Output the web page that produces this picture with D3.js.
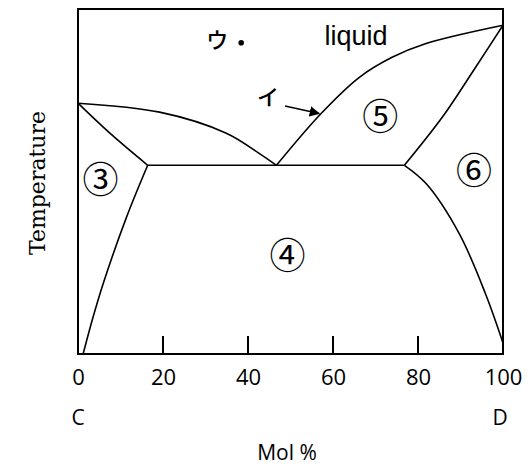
<!DOCTYPE html>
<html lang="en">
<head>
    <meta charset="UTF-8">
    <title>Phase diagram C-D</title>
    <script src="https://d3js.org/d3.v7.min.js"></script>
    <style>
        body { margin: 0; background: #fff; }
        .label { font-family: "Liberation Sans", Arial, sans-serif; fill: #000; }
        .jp { font-family: "Noto Sans CJK JP", sans-serif; fill: #000; }
        .tick text { font-family: "Open Sans", "Liberation Sans", sans-serif; font-size: 22px; }
        .title { font-family: "Open Sans", sans-serif; font-size: 21px; fill: #000; }
        .ytitle { font-family: "DejaVu Serif", serif; font-size: 22px; fill: #000; }
    </style>
</head>
<body>
    <svg id="chart" width="532" height="466"></svg>

    <script>
        // x = mol % of D, t = relative temperature (0 bottom .. 100 top)
        const liquidusLeft = [
            {x: 0, t: 72.7}, {x: 19.2, t: 70.1}, {x: 34.9, t: 64.0},
            {x: 42.7, t: 58.1}, {x: 46.7, t: 54.7}
        ];
        const liquidusRight = [
            {x: 46.7, t: 54.7}, {x: 57.2, t: 69.7}, {x: 66.2, t: 80.2},
            {x: 73.9, t: 86.0}, {x: 81.9, t: 90.0}, {x: 100, t: 95.3}
        ];
        const solidusLeft = [
            {x: 0, t: 72.7}, {x: 7.5, t: 64.0}, {x: 16.4, t: 54.7}
        ];
        const solidusRight = [
            {x: 100, t: 95.3}, {x: 93.6, t: 83.2}, {x: 85.7, t: 68.6}, {x: 76.8, t: 54.7}
        ];
        const solvusLeft = [
            {x: 16.4, t: 54.7}, {x: 11.4, t: 39.6}, {x: 5.9, t: 20.3},
            {x: 3.5, t: 10.5}, {x: 1.2, t: 0}
        ];
        const solvusRight = [
            {x: 76.8, t: 54.7}, {x: 81.9, t: 49.4}, {x: 89.7, t: 34.9},
            {x: 95.9, t: 17.4}, {x: 100, t: 3.2}
        ];
        const eutectic = [{x: 16.4, t: 54.7}, {x: 76.8, t: 54.7}];

        const xTicks = [0, 20, 40, 60, 80, 100];

        const regions = [
            {text: "③", x: 5.3, t: 50.3},
            {text: "④", x: 49.3, t: 28.2},
            {text: "⑤", x: 71.1, t: 68.7},
            {text: "⑥", x: 93.2, t: 53.0}
        ];
        const pointU = {x: 38.4, t: 90.2};

        const svg = d3.select("#chart");

        const x = d3.scaleLinear().domain([0, 100]).range([78, 503]);
        const y = d3.scaleLinear().domain([0, 100]).range([354, 9]);

        const line = d3.line()
            .x(d => x(d.x))
            .y(d => y(d.t))
            .curve(d3.curveCatmullRom.alpha(0.5));

        // frame
        svg.append("rect")
            .attr("x", x(0)).attr("y", y(100))
            .attr("width", x(100) - x(0)).attr("height", y(0) - y(100))
            .attr("fill", "none").attr("stroke", "#000").attr("stroke-width", 2);

        // bottom axis: labels below, short ticks pointing inward
        const xAxis = d3.axisBottom(x)
            .tickValues(xTicks)
            .tickSize(0)
            .tickPadding(15)
            .tickFormat(d3.format("d"));
        const gx = svg.append("g")
            .attr("transform", `translate(0,${y(0)})`)
            .call(xAxis);
        gx.select(".domain").remove();
        gx.selectAll(".tick text").attr("fill", "#000");

        svg.append("g").selectAll("line")
            .data(xTicks.filter(v => v > 0 && v < 100))
            .join("line")
            .attr("x1", d => x(d)).attr("x2", d => x(d))
            .attr("y1", y(0)).attr("y2", y(0) - 18)
            .attr("stroke", "#000").attr("stroke-width", 2);

        // phase boundaries
        const curves = [liquidusLeft, liquidusRight, solidusLeft, solidusRight,
                        solvusLeft, solvusRight, eutectic];
        svg.append("g").selectAll("path")
            .data(curves)
            .join("path")
            .attr("d", line)
            .attr("fill", "none")
            .attr("stroke", "#000")
            .attr("stroke-width", 1.6);

        // region labels
        svg.append("g").selectAll("text")
            .data(regions)
            .join("text")
            .attr("class", "jp")
            .attr("x", d => x(d.x))
            .attr("y", d => y(d.t))
            .attr("dy", "0.35em")
            .attr("text-anchor", "middle")
            .style("font-size", "36px")
            .text(d => d.text);

        svg.append("text")
            .attr("class", "label")
            .attr("x", 356).attr("y", 45)
            .attr("text-anchor", "middle")
            .style("font-size", "27px")
            .text("liquid");

        // point ウ
        svg.append("circle")
            .attr("cx", x(pointU.x)).attr("cy", y(pointU.t))
            .attr("r", 2.8).attr("fill", "#000");
        svg.append("text")
            .attr("class", "jp")
            .attr("x", x(pointU.x) - 24).attr("y", y(pointU.t) - 3)
            .attr("dy", "0.35em")
            .attr("text-anchor", "middle")
            .style("font-size", "22px")
            .style("font-weight", "500")
            .text("ウ");

        // arrow イ
        svg.append("defs").append("marker")
            .attr("id", "head")
            .attr("viewBox", "0 0 10 10")
            .attr("refX", 9).attr("refY", 5)
            .attr("markerWidth", 7).attr("markerHeight", 7)
            .attr("orient", "auto")
            .append("path")
            .attr("d", "M0,0L10,5L0,10z")
            .attr("fill", "#000");
        svg.append("line")
            .attr("x1", 285).attr("y1", 106)
            .attr("x2", x(57.2) - 2).attr("y2", y(69.7))
            .attr("stroke", "#000").attr("stroke-width", 1.5)
            .attr("marker-end", "url(#head)");
        svg.append("text")
            .attr("class", "jp")
            .attr("x", 268).attr("y", 97)
            .attr("dy", "0.35em")
            .attr("text-anchor", "middle")
            .style("font-size", "22px")
            .style("font-weight", "500")
            .text("イ");

        // axis titles
        svg.append("text")
            .attr("class", "title")
            .attr("x", x(0)).attr("y", 418)
            .attr("dy", "0.35em")
            .attr("text-anchor", "middle")
            .text("C");
        svg.append("text")
            .attr("class", "title")
            .attr("x", 500).attr("y", 418)
            .attr("dy", "0.35em")
            .attr("text-anchor", "middle")
            .text("D");
        svg.append("text")
            .attr("class", "title")
            .attr("x", 287).attr("y", 453)
            .attr("dy", "0.35em")
            .attr("text-anchor", "middle")
            .text("Mol %");
        svg.append("text")
            .attr("class", "ytitle")
            .attr("transform", "translate(37,183) rotate(-90)")
            .attr("dy", "0.35em")
            .attr("text-anchor", "middle")
            .text("Temperature");
    </script>
</body>
</html>
